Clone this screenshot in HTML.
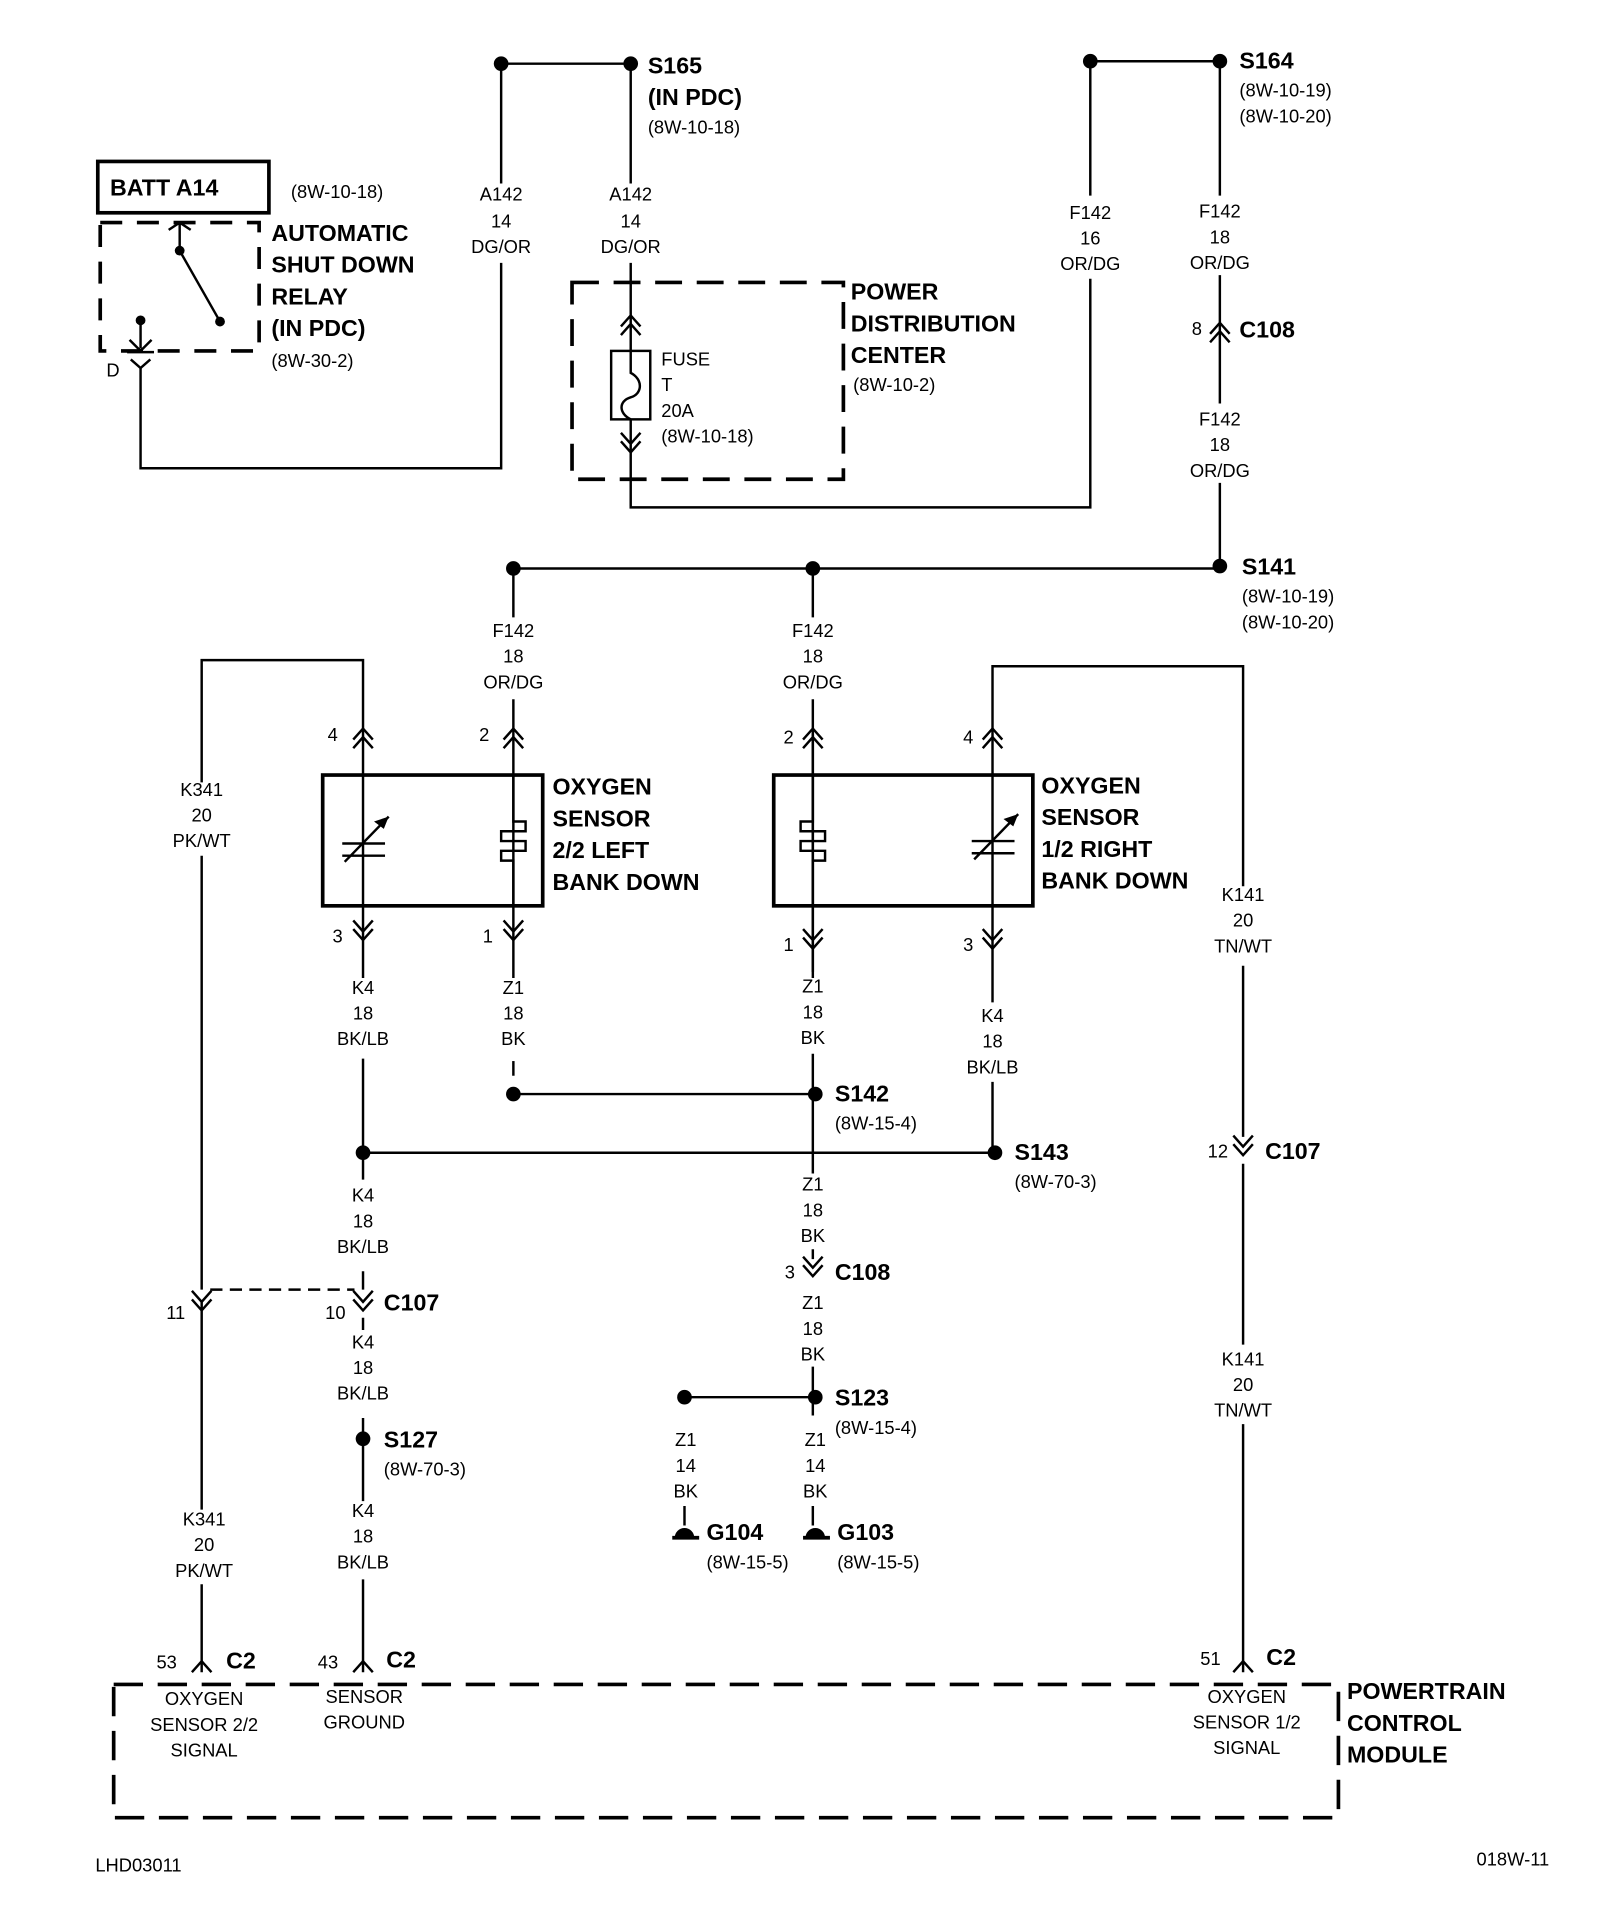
<!DOCTYPE html>
<html><head><meta charset="utf-8"><style>
html,body{margin:0;padding:0;background:#fff}
svg{display:block}
text{font-family:"Liberation Sans",sans-serif;fill:#000}
.s{font-size:15px;text-anchor:middle}
.l{font-size:15px}
.b{font-size:19px;font-weight:bold}
</style></head><body>
<svg width="1600" height="1918" viewBox="0 0 1309 1569" xmlns="http://www.w3.org/2000/svg">
<defs>
<g id="up" fill="none" stroke="#000" stroke-width="2"><path d="M-8 5 L0 -4 L8 5 M-8 12 L0 3 L8 12"/></g>
<g id="dn" fill="none" stroke="#000" stroke-width="2"><path d="M-8 -5 L0 4 L8 -5 M-8 -12 L0 -3 L8 -12"/></g>
<g id="yu" fill="none" stroke="#000" stroke-width="2"><path d="M-8 6 L0 -3 L8 6"/></g>
</defs>
<g fill="none" stroke="#000" stroke-width="2">
<path d="M410 52 H516"/>
<path d="M410 52 V150 M410 215 V383 H115 V300"/>
<path d="M516 52 V150 M516 215 V287 M516 343 V415 H892 V228 M892 160 V50 H998"/>
<path d="M998 50 V160 M998 225 V330 M998 395 V463"/>
<path d="M420 465 H998"/>
<path d="M420 465 V505 M420 572 V800 M665 465 V505 M665 572 V795"/>
<rect x="500" y="287" width="32" height="56"/>
<path d="M516 287 V305 C526 310 526 322 516 325 C506 328 506 338 516 343"/>
<rect x="468" y="231" width="222" height="161" stroke-width="3" stroke-dasharray="22 12"/>
<rect x="80" y="132" width="140" height="42" stroke-width="3"/>
<rect x="82" y="182" width="130" height="105" stroke-width="3" stroke-dasharray="18 12"/>
<path d="M147 182 V205 L180 263 M138 188 L147 182 L156 188"/>
<path d="M115 262 V285 M106 278 L115 287 L124 278 M104 288 H126"/>
<path d="M107 294 L115 301 L123 294"/>
<rect x="264" y="634" width="180" height="107" stroke-width="3"/>
<path d="M297 866 V965 M297 1040 V1055 M297 1078 V1088 M297 1160 V1177 M297 1177 V1228 M297 1292 V1368"/>
<path d="M297 600 V540 H165 V640 M165 700 V1055 M165 1065 V1235 M165 1296 V1368"/>
<path d="M297 600 V800"/>
<path d="M280 690 H315 M280 700 H315 M282 705 L318 668" />
<path d="M420 634 V672 H430 V680 H410 V688 H430 V696 H410 V704 H420 V741"/>
<path d="M420 868 V880"/>
<path d="M420 895 H667"/>
<path d="M297 943 H814"/>
<path d="M172 1055 H290" stroke-dasharray="10 6"/>
<rect x="633" y="634" width="212" height="107" stroke-width="3"/>
<path d="M665 600 V800 M812 600 V820 M812 885 V943"/>
<path d="M812 600 V545 H1017 V725 M1017 790 V930 M1017 952 V1100 M1017 1165 V1368"/>
<path d="M795 688 H830 M795 698 H830 M797 703 L833 666"/>
<path d="M665 634 V672 H655 V680 H675 V688 H655 V696 H675 V704 H665 V741"/>
<path d="M665 862 V960 M665 1022 V1030 M665 1118 V1143 M665 1143 V1158 M665 1232 V1248"/>
<path d="M560 1143 H667 M560 1232 V1248"/>
<path d="M550 1258 H572 M657 1258 H679" stroke-width="3"/>
<rect x="93" y="1378" width="1002" height="109" stroke-width="3" stroke-dasharray="24 12"/>
</g>
<g fill="#000">
<circle cx="410" cy="52" r="6"/><circle cx="516" cy="52" r="6"/>
<circle cx="892" cy="50" r="6"/><circle cx="998" cy="50" r="6"/>
<circle cx="998" cy="463" r="6"/><circle cx="420" cy="465" r="6"/><circle cx="665" cy="465" r="6"/>
<circle cx="147" cy="205" r="4"/><circle cx="180" cy="263" r="4"/><circle cx="115" cy="262" r="4"/>
<circle cx="420" cy="895" r="6"/><circle cx="667" cy="895" r="6"/>
<circle cx="297" cy="943" r="6"/><circle cx="814" cy="943" r="6"/>
<circle cx="297" cy="1177" r="6"/><circle cx="560" cy="1143" r="6"/><circle cx="667" cy="1143" r="6"/>
<path d="M552 1258 A8 8 0 0 1 568 1258Z M659 1258 A8 8 0 0 1 675 1258Z"/>
<path d="M318 668 L306 672 L314 678Z M833 666 L821 670 L829 676Z"/>
</g>
<use href="#up" x="516" y="262"/><use href="#dn" x="516" y="366"/>
<use href="#up" x="998" y="268"/>
<use href="#up" x="297" y="600"/><use href="#up" x="420" y="600"/>
<use href="#dn" x="297" y="765"/><use href="#dn" x="420" y="765"/>
<use href="#up" x="665" y="600"/><use href="#up" x="812" y="600"/>
<use href="#dn" x="665" y="772"/><use href="#dn" x="812" y="772"/>
<use href="#dn" x="1017" y="941"/><use href="#dn" x="665" y="1040"/>
<use href="#dn" x="297" y="1068"/><use href="#dn" x="165" y="1068"/>
<use href="#yu" x="165" y="1362"/><use href="#yu" x="297" y="1362"/><use href="#yu" x="1017" y="1362"/>
<text class="b" x="530" y="60">S165</text><text class="b" x="530" y="86">(IN PDC)</text><text class="l" x="530" y="109">(8W-10-18)</text>
<text class="b" x="1014" y="56">S164</text><text class="l" x="1014" y="79">(8W-10-19)</text><text class="l" x="1014" y="100">(8W-10-20)</text>
<text class="b" x="90" y="160">BATT A14</text><text class="l" x="238" y="162">(8W-10-18)</text>
<text class="b" x="222" y="197">AUTOMATIC</text><text class="b" x="222" y="223">SHUT DOWN</text><text class="b" x="222" y="249">RELAY</text><text class="b" x="222" y="275">(IN PDC)</text><text class="l" x="222" y="300">(8W-30-2)</text>
<text class="l" x="87" y="308">D</text>
<text class="s" x="410" y="164">A142</text><text class="s" x="410" y="186">14</text><text class="s" x="410" y="207">DG/OR</text>
<text class="s" x="516" y="164">A142</text><text class="s" x="516" y="186">14</text><text class="s" x="516" y="207">DG/OR</text>
<text class="s" x="892" y="179">F142</text><text class="s" x="892" y="200">16</text><text class="s" x="892" y="221">OR/DG</text>
<text class="s" x="998" y="178">F142</text><text class="s" x="998" y="199">18</text><text class="s" x="998" y="220">OR/DG</text>
<text class="l" x="975" y="274">8</text><text class="b" x="1014" y="276">C108</text>
<text class="s" x="998" y="348">F142</text><text class="s" x="998" y="369">18</text><text class="s" x="998" y="390">OR/DG</text>
<text class="b" x="1016" y="470">S141</text><text class="l" x="1016" y="493">(8W-10-19)</text><text class="l" x="1016" y="514">(8W-10-20)</text>
<text class="b" x="696" y="245">POWER</text><text class="b" x="696" y="271">DISTRIBUTION</text><text class="b" x="696" y="297">CENTER</text><text class="l" x="698" y="320">(8W-10-2)</text>
<text class="l" x="541" y="299">FUSE</text><text class="l" x="541" y="320">T</text><text class="l" x="541" y="341">20A</text><text class="l" x="541" y="362">(8W-10-18)</text>
<text class="s" x="420" y="521">F142</text><text class="s" x="420" y="542">18</text><text class="s" x="420" y="563">OR/DG</text>
<text class="s" x="665" y="521">F142</text><text class="s" x="665" y="542">18</text><text class="s" x="665" y="563">OR/DG</text>
<text class="s" x="165" y="651">K341</text><text class="s" x="165" y="672">20</text><text class="s" x="165" y="693">PK/WT</text>
<text class="l" x="268" y="606">4</text><text class="l" x="392" y="606">2</text><text class="l" x="272" y="771">3</text><text class="l" x="395" y="771">1</text>
<text class="l" x="641" y="608">2</text><text class="l" x="788" y="608">4</text><text class="l" x="641" y="778">1</text><text class="l" x="788" y="778">3</text>
<text class="b" x="452" y="650">OXYGEN</text><text class="b" x="452" y="676">SENSOR</text><text class="b" x="452" y="702">2/2 LEFT</text><text class="b" x="452" y="728">BANK DOWN</text>
<text class="b" x="852" y="649">OXYGEN</text><text class="b" x="852" y="675">SENSOR</text><text class="b" x="852" y="701">1/2 RIGHT</text><text class="b" x="852" y="727">BANK DOWN</text>
<text class="s" x="297" y="813">K4</text><text class="s" x="297" y="834">18</text><text class="s" x="297" y="855">BK/LB</text>
<text class="s" x="420" y="813">Z1</text><text class="s" x="420" y="834">18</text><text class="s" x="420" y="855">BK</text>
<text class="s" x="665" y="812">Z1</text><text class="s" x="665" y="833">18</text><text class="s" x="665" y="854">BK</text>
<text class="s" x="812" y="836">K4</text><text class="s" x="812" y="857">18</text><text class="s" x="812" y="878">BK/LB</text>
<text class="s" x="1017" y="737">K141</text><text class="s" x="1017" y="758">20</text><text class="s" x="1017" y="779">TN/WT</text>
<text class="b" x="683" y="901">S142</text><text class="l" x="683" y="924">(8W-15-4)</text>
<text class="b" x="830" y="949">S143</text><text class="l" x="830" y="972">(8W-70-3)</text>
<text class="l" x="988" y="947">12</text><text class="b" x="1035" y="948">C107</text>
<text class="s" x="297" y="983">K4</text><text class="s" x="297" y="1004">18</text><text class="s" x="297" y="1025">BK/LB</text>
<text class="s" x="665" y="974">Z1</text><text class="s" x="665" y="995">18</text><text class="s" x="665" y="1016">BK</text>
<text class="l" x="642" y="1046">3</text><text class="b" x="683" y="1047">C108</text>
<text class="s" x="665" y="1071">Z1</text><text class="s" x="665" y="1092">18</text><text class="s" x="665" y="1113">BK</text>
<text class="l" x="136" y="1079">11</text><text class="l" x="266" y="1079">10</text><text class="b" x="314" y="1072">C107</text>
<text class="s" x="297" y="1103">K4</text><text class="s" x="297" y="1124">18</text><text class="s" x="297" y="1145">BK/LB</text>
<text class="s" x="1017" y="1117">K141</text><text class="s" x="1017" y="1138">20</text><text class="s" x="1017" y="1159">TN/WT</text>
<text class="b" x="683" y="1150">S123</text><text class="l" x="683" y="1173">(8W-15-4)</text>
<text class="b" x="314" y="1184">S127</text><text class="l" x="314" y="1207">(8W-70-3)</text>
<text class="s" x="561" y="1183">Z1</text><text class="s" x="561" y="1204">14</text><text class="s" x="561" y="1225">BK</text>
<text class="s" x="667" y="1183">Z1</text><text class="s" x="667" y="1204">14</text><text class="s" x="667" y="1225">BK</text>
<text class="b" x="578" y="1260">G104</text><text class="l" x="578" y="1283">(8W-15-5)</text>
<text class="b" x="685" y="1260">G103</text><text class="l" x="685" y="1283">(8W-15-5)</text>
<text class="s" x="167" y="1248">K341</text><text class="s" x="167" y="1269">20</text><text class="s" x="167" y="1290">PK/WT</text>
<text class="s" x="297" y="1241">K4</text><text class="s" x="297" y="1262">18</text><text class="s" x="297" y="1283">BK/LB</text>
<text class="l" x="128" y="1365">53</text><text class="b" x="185" y="1365">C2</text>
<text class="l" x="260" y="1365">43</text><text class="b" x="316" y="1364">C2</text>
<text class="l" x="982" y="1362">51</text><text class="b" x="1036" y="1362">C2</text>
<text class="s" x="167" y="1395">OXYGEN</text><text class="s" x="167" y="1416">SENSOR 2/2</text><text class="s" x="167" y="1437">SIGNAL</text>
<text class="s" x="298" y="1393">SENSOR</text><text class="s" x="298" y="1414">GROUND</text>
<text class="s" x="1020" y="1393">OXYGEN</text><text class="s" x="1020" y="1414">SENSOR 1/2</text><text class="s" x="1020" y="1435">SIGNAL</text>
<text class="b" x="1102" y="1390">POWERTRAIN</text><text class="b" x="1102" y="1416">CONTROL</text><text class="b" x="1102" y="1442">MODULE</text>
<text class="l" x="78" y="1531">LHD03011</text><text class="l" x="1208" y="1526">018W-11</text>
</svg>
</body></html>
